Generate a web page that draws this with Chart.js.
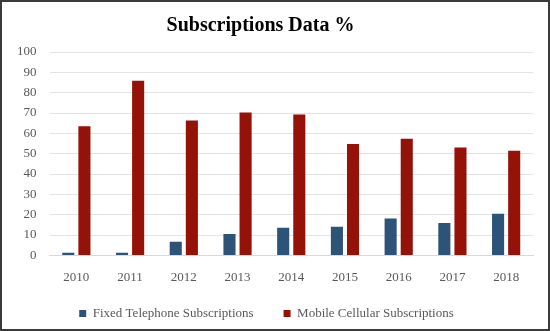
<!DOCTYPE html>
<html>
<head>
<meta charset="utf-8">
<script src="https://cdn.jsdelivr.net/npm/chart.js@4"></script>
<style>
  html, body { margin: 0; padding: 0; background: #fff; }
  #box {
    width: 550px; height: 331px;
    box-sizing: border-box;
    border: 2px solid #3a3a3a;
    position: relative;
  }
</style>
</head>
<body>
<div id="box"><canvas id="chart"></canvas></div>
<script>
// datos
const years = ["2010", "2011", "2012", "2013", "2014", "2015", "2016", "2017", "2018"];
const fixedTel = [1.3, 1.3, 6.7, 10.5, 13.6, 14.1, 18.2, 15.9, 20.5];
const mobileCell = [63.5, 85.9, 66.3, 70.3, 69.3, 54.8, 57.4, 53.0, 51.5];
const yTicks = [0, 10, 20, 30, 40, 50, 60, 70, 80, 90, 100];

const serif = "'Liberation Serif', 'DejaVu Serif', serif";

// el titulo y la leyenda van un poco a la izquierda en el original
const shiftBlocks = {
  id: "shiftBlocks",
  afterLayout(chart) {
    chart.titleBlock.left -= 8;
    chart.titleBlock.right -= 8;
    chart.legend.left -= 2;
    chart.legend.right -= 2;
    chart.legend.top -= 22;
    chart.legend.bottom -= 22;
  }
};

const ctx = document.getElementById("chart").getContext("2d");
new Chart(ctx, {
  type: "bar",
  data: {
    labels: years,
    datasets: [{
      label: "Fixed Telephone Subscriptions",
      data: fixedTel,
      backgroundColor: "#2e5378",
      barPercentage: 0.75,
      categoryPercentage: 0.6
    }, {
      label: "Mobile Cellular Subscriptions",
      data: mobileCell,
      backgroundColor: "#941208",
      barPercentage: 0.75,
      categoryPercentage: 0.6
    }]
  },
  options: {
    responsive: true,
    maintainAspectRatio: false,
    animation: false,
    layout: { padding: { left: 2, right: 15, top: 6, bottom: -23 } },
    plugins: {
      title: {
        display: true,
        text: "Subscriptions Data %",
        color: "#000",
        font: { family: serif, size: 20, weight: "bold" },
        padding: { top: 6, bottom: 14 }
      },
      legend: {
        position: "bottom",
        labels: {
          color: "#595959",
          font: { family: serif, size: 13 },
          boxWidth: 7,
          boxHeight: 7,
          padding: 30
        }
      },
      tooltip: { enabled: false }
    },
    scales: {
      x: {
        grid: { display: false, drawTicks: false },
        border: { color: "#d9d9d9" },
        ticks: { color: "#595959", font: { family: serif, size: 13 }, padding: 14 }
      },
      y: {
        min: 0,
        max: 100,
        afterBuildTicks: axis => { axis.ticks = yTicks.map(v => ({ value: v })); },
        grid: { color: "#e3e3e3", drawTicks: false },
        border: { display: false },
        ticks: { color: "#595959", font: { family: serif, size: 13 }, padding: 13 }
      }
    }
  },
  plugins: [shiftBlocks]
});
</script>
</body>
</html>
